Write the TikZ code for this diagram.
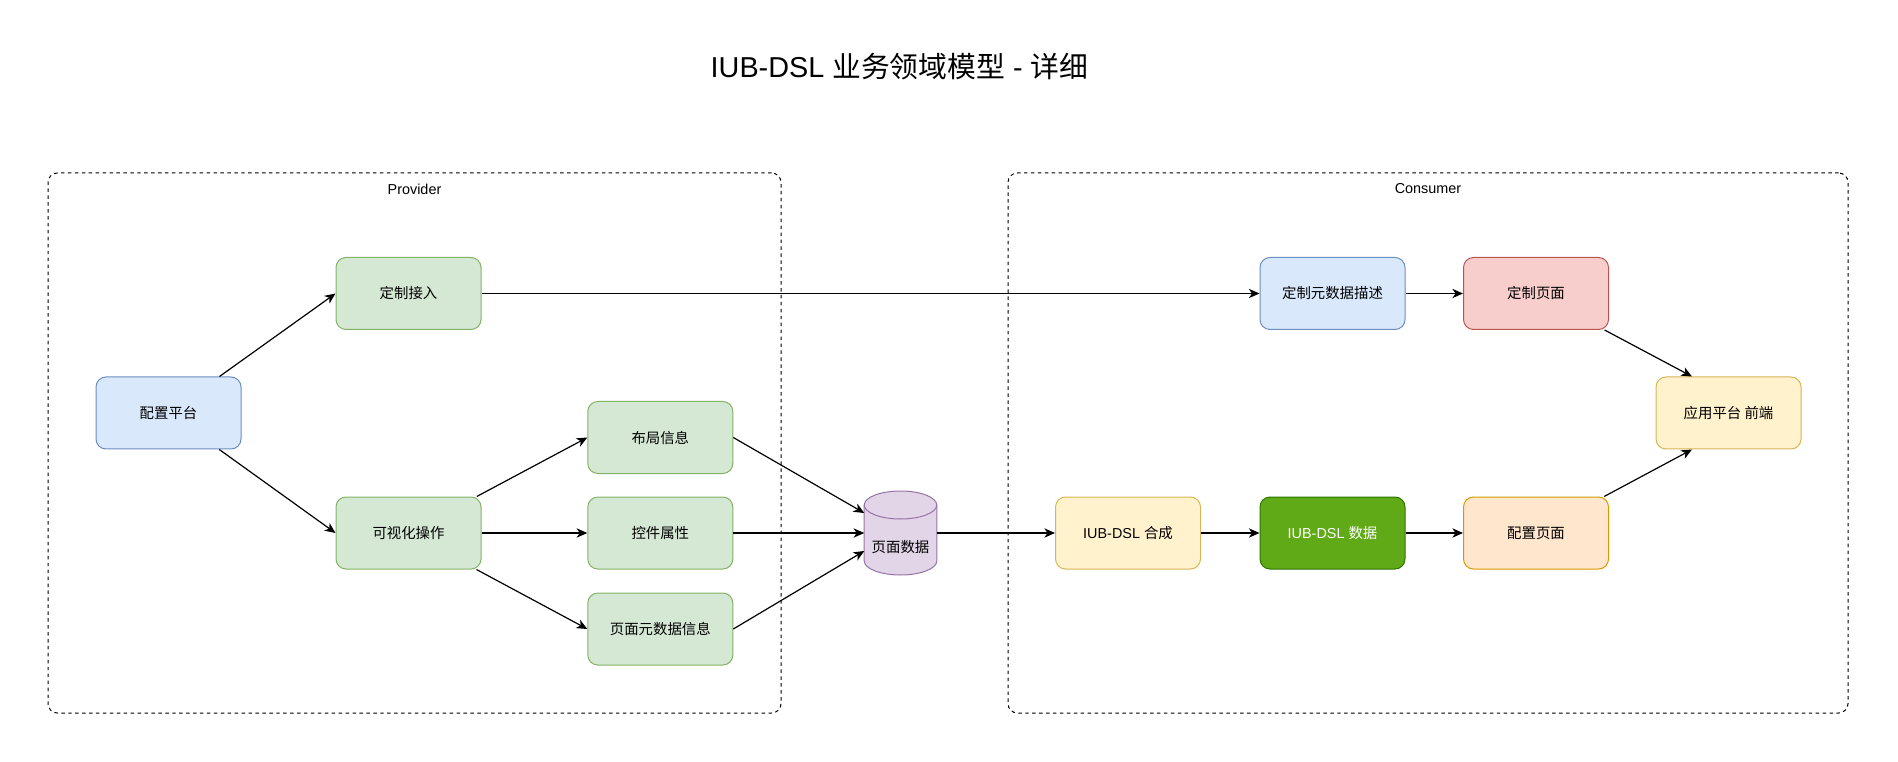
\documentclass[tikz,border=0pt]{standalone}
\usepackage{fontspec}
\setmainfont{Liberation Sans}
\newfontfamily\cjkfont{Noto Sans CJK SC}
\usetikzlibrary{arrows.meta,calc}
\newcommand{\zh}[1]{{\cjkfont #1}}
\definecolor{blueFill}{HTML}{DAE8FC}
\definecolor{blueLine}{HTML}{6C8EBF}
\definecolor{greenFill}{HTML}{D5E8D4}
\definecolor{greenLine}{HTML}{82B366}
\definecolor{redFill}{HTML}{F8CECC}
\definecolor{redLine}{HTML}{B85450}
\definecolor{yellowFill}{HTML}{FFF2CC}
\definecolor{yellowLine}{HTML}{D6B656}
\definecolor{orangeFill}{HTML}{FFE6CC}
\definecolor{orangeLine}{HTML}{D79B00}
\definecolor{purpleFill}{HTML}{E1D5E7}
\definecolor{purpleLine}{HTML}{9673A6}
\definecolor{darkFill}{HTML}{60A917}
\definecolor{darkLine}{HTML}{2D7600}

\begin{document}
\begin{tikzpicture}[x=0.75pt,y=-0.75pt,
    box/.style={draw,rounded corners=7.5pt,line width=0.75pt,
                minimum width=108.75pt,minimum height=54pt,
                font=\fontsize{10.8}{13}\selectfont},
    bluebox/.style={box,fill=blueFill,draw=blueLine},
    greenbox/.style={box,fill=greenFill,draw=greenLine},
    redbox/.style={box,fill=redFill,draw=redLine},
    yellowbox/.style={box,fill=yellowFill,draw=yellowLine},
    orangebox/.style={box,fill=orangeFill,draw=orangeLine},
    darkbox/.style={box,fill=darkFill,draw=darkLine,text=white},
    group/.style={draw,dash pattern=on 2.6pt off 2.6pt,line width=0.75pt,
                  rounded corners=7pt,minimum height=405pt},
    grouplabel/.style={font=\fontsize{10.8}{13}\selectfont},
    arrow/.style={draw,line width=0.9pt,-{Stealth[length=8pt,width=7pt,inset=2.4pt]}}]
\useasboundingbox (0,0) rectangle (1898,762);

% title
\node (title) at (899.5,67) {\fontsize{21.6}{26}\selectfont IUB-DSL \zh{业务领域模型} - \zh{详细}};

% groups
\node (provider) [group,minimum width=549.75pt] at (414.5,443) {};
\node (consumer) [group,minimum width=630pt]    at (1428,443)  {};
\node (providerlabel) [grouplabel] at (414.5,189) {Provider};
\node (consumerlabel) [grouplabel] at (1428,189)  {Consumer};

% provider side
\node (pzpt)  [bluebox]  at (168.5,413)  {\zh{配置平台}};
\node (dzjr)  [greenbox] at (408.5,293.5) {\zh{定制接入}};
\node (kshcz) [greenbox] at (408.5,533)  {\zh{可视化操作}};
\node (bjxx)  [greenbox] at (660.3,437.5) {\zh{布局信息}};
\node (kjsx)  [greenbox] at (660.3,533)  {\zh{控件属性}};
\node (ymysj) [greenbox] at (660.3,629)  {\zh{页面元数据信息}};

% page data store
\node (ymsj) [minimum width=54.4pt,minimum height=63pt,outer sep=0pt,inner sep=0pt] at (900.5,533) {};
\draw[fill=purpleFill,draw=purpleLine,line width=0.75pt]
    ([yshift=-10.5pt]ymsj.north west) -- ([yshift=10.5pt]ymsj.south west)
    arc[start angle=180,end angle=360,x radius=27.2pt,y radius=10.5pt]
    -- ([yshift=-10.5pt]ymsj.north east)
    arc[start angle=0,end angle=180,x radius=27.2pt,y radius=10.5pt] -- cycle;
\draw[draw=purpleLine,line width=0.75pt] ([yshift=-10.5pt]ymsj.north west)
    arc[start angle=180,end angle=360,x radius=27.2pt,y radius=10.5pt];
\node (ymsjtext) [font=\fontsize{10.8}{13}\selectfont] at (900.5,547) {\zh{页面数据}};

% consumer side
\node (hc)   [yellowbox] at (1128,533)    {IUB-DSL \zh{合成}};
\node (sj)   [darkbox]   at (1332.5,533)  {IUB-DSL \zh{数据}};
\node (pzym) [orangebox] at (1536,533)    {\zh{配置页面}};
\node (dzms) [bluebox]   at (1332.5,293.5) {\zh{定制元数据描述}};
\node (dzym) [redbox]    at (1536,293.5)  {\zh{定制页面}};
\node (yypt) [yellowbox] at (1728.5,413)  {\zh{应用平台 前端}};

% connectors
\draw[arrow] (pzpt) -- (dzjr.west);
\draw[arrow] (pzpt) -- (kshcz.west);
\draw[arrow] (kshcz) -- (bjxx.west);
\draw[arrow] (kshcz) -- (kjsx);
\draw[arrow] (kshcz) -- (ymysj.west);
\draw[arrow] (bjxx.east) -- ([yshift=15pt]ymsj.west);
\draw[arrow] (kjsx.east) -- (ymsj.west);
\draw[arrow] (ymysj.east) -- ([yshift=-13.5pt]ymsj.west);
\draw[arrow] (ymsj.east) -- (hc.west);
\draw[arrow] (hc) -- (sj);
\draw[arrow] (sj) -- (pzym);
\draw[arrow] (dzjr) -- (dzms);
\draw[arrow] (dzms) -- (dzym);
\draw[arrow] (dzym) -- ($(yypt.north west)!0.25!(yypt.north east)$);
\draw[arrow] (pzym) -- ($(yypt.south west)!0.25!(yypt.south east)$);
\end{tikzpicture}
\end{document}
